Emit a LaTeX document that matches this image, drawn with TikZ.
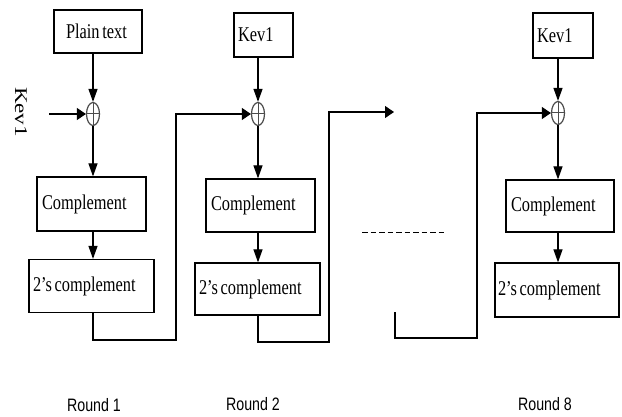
\documentclass[tikz,border=0pt]{standalone}
\usepackage{fontspec}
\usepackage{graphicx}
\setmainfont{Liberation Serif}
\newfontfamily\rndfont{Liberation Sans}
\usetikzlibrary{arrows.meta,shapes.geometric}
\newcommand{\bxt}[1]{{\fontsize{21}{21}\selectfont\scalebox{0.78}[1]{#1}}}
\newcommand{\rdt}[1]{{\rndfont\fontsize{18}{18}\selectfont\scalebox{0.79}[1]{#1}}}
\begin{document}
\begin{tikzpicture}[x=1pt,y=-1pt,line width=1.1pt,
  bx/.style={draw,rectangle,align=left,inner ysep=0pt,line width=1.2pt},
  xo/.style={draw=black!70,ellipse,minimum width=13pt,minimum height=23pt,inner sep=0pt,line width=1.2pt},
  xcross/.style={draw=black!70,line width=1pt},
  vtip/.style={-{Triangle[length=13pt,width=9pt]}},
  htip/.style={-{Triangle[length=9pt,width=12pt]}},
  conn/.style={draw,line width=1.1pt},
  rnd/.style={inner sep=0pt}]
\useasboundingbox (0,0) rectangle (622,417);
\fill[white] (0,0) rectangle (622,417);

% Round 1
\node[bx,minimum height=43pt,inner xsep=12pt,text width=64pt] (pt) at (98,31.5) {\bxt{Plain text}};
\node[xo] (x1) at (93,114) {};
\draw[xcross] (x1.north) -- (x1.south) (x1.west) -- (x1.east);
\node[bx,minimum height=54pt,inner xsep=5pt,text width=99pt] (c1) at (91.5,204) {\bxt{Complement}};
\node[bx,minimum height=53pt,inner xsep=4pt,text width=117pt] (t1) at (91.5,286) {\bxt{2’s complement}};
\node[rotate=-90,inner sep=0pt] (kl) at (21,112) {\fontsize{23}{23}\selectfont\scalebox{1}[0.78]{Kev1}};
\coordinate (kin) at (49,114);
\coordinate (b1) at (176,340);

% Round 2
\node[bx,minimum height=44pt,inner xsep=4pt,text width=51pt] (k2) at (263.5,35) {\bxt{Kev1}};
\node[xo] (x2) at (258,114) {};
\draw[xcross] (x2.north) -- (x2.south) (x2.west) -- (x2.east);
\node[bx,minimum height=53pt,inner xsep=5pt,text width=99pt] (c2) at (260.5,205.5) {\bxt{Complement}};
\node[bx,minimum height=52pt,inner xsep=4pt,text width=117pt] (t2) at (257.5,289) {\bxt{2’s complement}};
\coordinate (b2) at (329,342);
\coordinate (e2) at (394,112);

% dots
\coordinate (d1) at (362,233);
\coordinate (d2) at (446,233);

% Round 8
\node[bx,minimum height=45pt,inner xsep=4pt,text width=52pt] (k8) at (563,35.5) {\bxt{Kev1}};
\node[xo] (x8) at (558,113) {};
\draw[xcross] (x8.north) -- (x8.south) (x8.west) -- (x8.east);
\node[bx,minimum height=52pt,inner xsep=5pt,text width=98pt] (c8) at (560,206) {\bxt{Complement}};
\node[bx,minimum height=54pt,inner xsep=3pt,text width=118pt] (t8) at (557,290) {\bxt{2’s complement}};
\coordinate (s8) at (395,312);
\coordinate (b8) at (477,338);

% round labels
\node[rnd] (r1) at (94,405) {\rdt{Round 1}};
\node[rnd] (r2) at (253,404) {\rdt{Round 2}};
\node[rnd] (r8) at (545,404) {\rdt{Round 8}};

% connectors round 1
\draw[conn,vtip] (x1 |- pt.south) -- (x1.north);
\draw[conn,htip] (kin) -- (x1.west);
\draw[conn,vtip] (x1.south) -- (x1 |- c1.north);
\draw[conn,vtip] (x1 |- c1.south) -- (x1 |- t1.north);
\draw[conn,htip] (x1 |- t1.south) |- (b1) |- (x2.west);

% connectors round 2
\draw[conn,vtip] (x2 |- k2.south) -- (x2.north);
\draw[conn,vtip] (x2.south) -- (x2 |- c2.north);
\draw[conn,vtip] (x2 |- c2.south) -- (x2 |- t2.north);
\draw[conn,htip] (x2 |- t2.south) |- (b2) |- (e2);

% dashed
\draw[dashed,dash pattern=on 5.5pt off 3pt,line width=1pt] (d1) -- (d2);

% connectors round 8
\draw[conn,htip] (s8) |- (b8) |- (x8.west);
\draw[conn,vtip] (x8 |- k8.south) -- (x8.north);
\draw[conn,vtip] (x8.south) -- (x8 |- c8.north);
\draw[conn,vtip] (x8 |- c8.south) -- (x8 |- t8.north);
\end{tikzpicture}
\end{document}
